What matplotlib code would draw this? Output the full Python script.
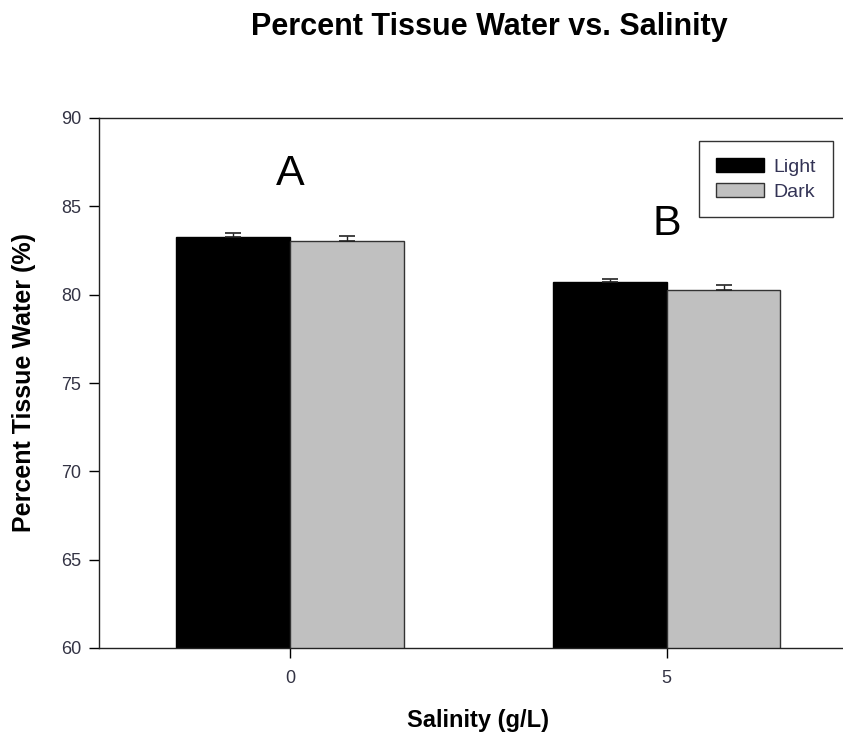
import matplotlib
matplotlib.use("Agg")
import matplotlib.pyplot as plt
import numpy as np

plt.rcParams['font.family'] = ['Liberation Sans', 'DejaVu Sans']

salinity = ["0", "5"]
light_vals = [83.25, 80.74]
light_err = [0.23, 0.15]
dark_vals = [83.04, 80.27]
dark_err = [0.28, 0.26]
letters = ["A", "B"]
letter_y = [86.83, 84.0]
yticks = [60, 65, 70, 75, 80, 85, 90]

W, H = 843, 736
fig = plt.figure(figsize=(W / 100, H / 100), dpi=100)
ax = fig.add_axes([99 / W, 1 - 648 / H, (855 - 99) / W, (648 - 118) / H])

x = np.arange(len(salinity))
bw = 0.302
ax.bar(x - bw / 2, light_vals, bw, color="black", edgecolor="black", linewidth=1,
       label="Light", zorder=2)
ax.bar(x + bw / 2, dark_vals, bw, color="#c0c0c0", edgecolor="#333333", linewidth=1,
       label="Dark", zorder=2)
ax.errorbar(x - bw / 2, light_vals, yerr=[np.zeros(2), light_err], fmt="none",
            ecolor="#222222", elinewidth=1, capsize=6, capthick=1.2, zorder=3)
ax.errorbar(x + bw / 2, dark_vals, yerr=[np.zeros(2), dark_err], fmt="none",
            ecolor="#222222", elinewidth=1, capsize=6, capthick=1.2, zorder=3)

for xi, lt, ly in zip(x, letters, letter_y):
    ax.text(xi, ly, lt, ha="center", va="center", fontsize=31, color="black")

ax.set_xlim(-0.507, 1.5)
ax.set_ylim(60, 90)
ax.set_yticks(yticks)
ax.set_xticks(x)
ax.set_xticklabels(salinity)
ax.spines["right"].set_visible(False)
for s in ["left", "bottom", "top"]:
    ax.spines[s].set_linewidth(1)
    ax.spines[s].set_color("#222222")
ax.tick_params(axis="y", direction="out", length=7, width=1, labelsize=13,
               labelcolor="#333344", pad=6)
ax.tick_params(axis="x", direction="out", length=7, width=1, labelsize=13,
               labelcolor="#333344", pad=9)

ax.set_ylabel("Percent Tissue Water (%)", fontsize=18, fontweight="bold", labelpad=18)
ax.set_xlabel("Salinity (g/L)", fontsize=17, fontweight="bold")
ax.xaxis.set_label_coords((478 - 99) / (855 - 99), -(720 - 648) / (648 - 118))
ax.xaxis.label.set_verticalalignment("center")
fig.text(489 / W, 1 - 27 / H, "Percent Tissue Water vs. Salinity", ha="center",
         va="center", fontsize=22, fontweight="bold")

leg = ax.legend(loc="upper left", bbox_to_anchor=((699 - 99) / (855 - 99), (648 - 141) / (648 - 118)),
                fontsize=14, frameon=True, fancybox=False, edgecolor="black",
                handlelength=2.5, handleheight=0.8, borderpad=0.85, labelspacing=0.35,
                handletextpad=0.5, borderaxespad=0)
leg.get_frame().set_linewidth(1)
for t in leg.get_texts():
    t.set_color("#333355")

fig.savefig("out.png", dpi=100)
